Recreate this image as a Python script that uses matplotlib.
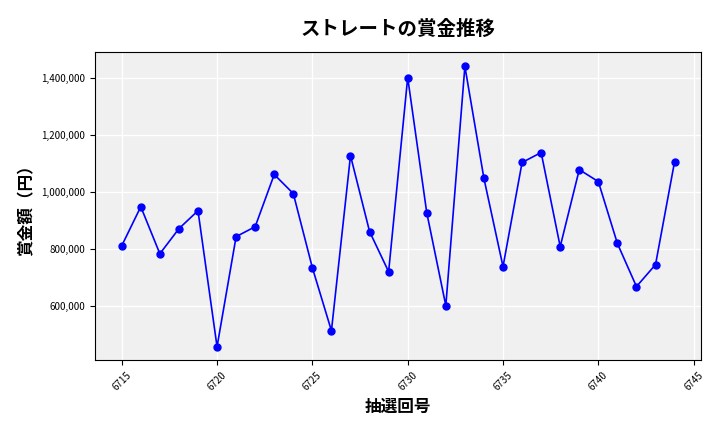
import matplotlib
matplotlib.use("Agg")
import matplotlib.pyplot as plt
from matplotlib.ticker import FuncFormatter

plt.rcParams['font.family'] = ['Noto Sans CJK JP', 'DejaVu Sans']

draws = list(range(6715, 6745))
prizes = [810000, 947000, 782000, 870000, 933000, 456000, 842000, 877000, 1060000, 993000,
          733000, 512000, 1126000, 860000, 719000, 1400000, 926000, 600000, 1439000, 1046000,
          737000, 1102000, 1137000, 807000, 1077000, 1035000, 818000, 667000, 744000, 1105000]

fig = plt.figure(figsize=(7.2, 4.32), dpi=100)
ax = fig.add_axes([0.132, 0.167, 0.842, 0.713])
ax.set_facecolor('#f0f0f0')
ax.grid(True, color='white', linewidth=1)
ax.set_axisbelow(True)
ax.plot(draws, prizes, color='blue', marker='o', markersize=5, linewidth=1.2)
ax.set_xticks([6715, 6720, 6725, 6730, 6735, 6740, 6745])
ax.set_yticks([600000, 800000, 1000000, 1200000, 1400000])
ax.yaxis.set_major_formatter(FuncFormatter(lambda v, p: f"{int(v):,}"))
ax.tick_params(axis='x', labelrotation=45, labelsize=7)
ax.tick_params(axis='y', labelsize=7)
ax.set_xlim(6713.6, 6745.4)
ax.set_ylim(410000, 1490000)
ax.set_xlabel('抽選回号', fontsize=12, fontweight='bold')
ax.set_ylabel('賞金額（円）', fontsize=12, fontweight='bold')
ax.set_title('ストレートの賞金推移', fontsize=14, fontweight='bold', pad=12)
fig.savefig('out.png')
